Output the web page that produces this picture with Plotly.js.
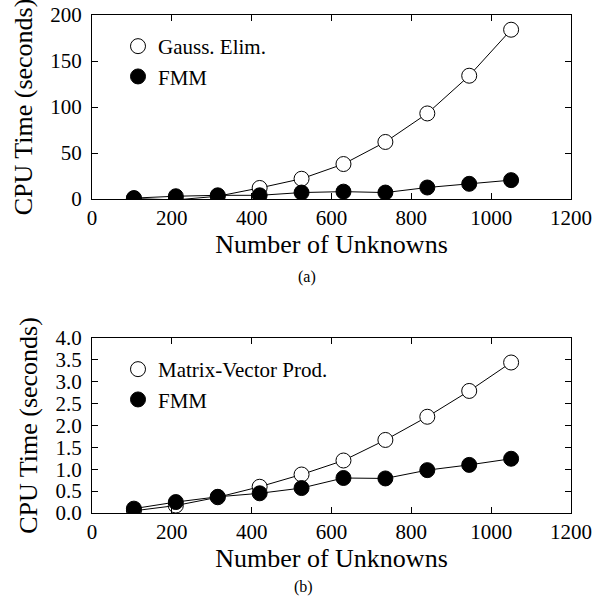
<!DOCTYPE html>
<html><head><meta charset="utf-8">
<script src="https://cdn.plot.ly/plotly-3.0.1.min.js"></script>
<style>html,body{margin:0;padding:0;background:#fff}#c{width:599px;height:598px}</style>
</head><body><div id="c"></div>
<script>
const unknowns = [105, 210, 315, 420, 525, 630, 735, 840, 945, 1050];
const gaussElim = [0.5, -1, 3, 12, 22, 38, 62, 93, 134, 184];
const fmmA = [1, 3, 4, 4, 7, 8, 7, 12.5, 16.5, 20.5];
const matVec = [0.05, 0.17, 0.36, 0.6, 0.88, 1.2, 1.67, 2.2, 2.79, 3.44];
const fmmB = [0.1, 0.25, 0.37, 0.45, 0.57, 0.8, 0.79, 0.98, 1.1, 1.24];
const xTicks = [0, 200, 400, 600, 800, 1000, 1200];

const F = 'Liberation Serif, Times New Roman, serif';
const openM = {symbol:'circle', size:15, color:'#fff', line:{color:'#000', width:1}};
const fillM = {symbol:'circle', size:15, color:'#000', line:{color:'#000', width:1}};
const ln = {color:'#000', width:1};

function series(y, name, marker, xa, ya, leg){
  return [
    {x:unknowns, y:y, name:name, mode:'lines', line:ln, xaxis:xa, yaxis:ya, showlegend:false, hoverinfo:'skip'},
    {x:unknowns, y:y, name:name, mode:'markers', marker:marker, xaxis:xa, yaxis:ya, legend:leg}
  ];
}
const data = [].concat(
  series(gaussElim, 'Gauss. Elim.', openM, 'x', 'y', 'legend'),
  series(fmmA, 'FMM', fillM, 'x', 'y', 'legend'),
  series(matVec, 'Matrix-Vector Prod.', openM, 'x2', 'y2', 'legend2'),
  series(fmmB, 'FMM', fillM, 'x2', 'y2', 'legend2')
);

const xdom = [92/599, 571/599];
function xa(anchor){
  return {domain:xdom, anchor:anchor, range:[0,1200], tickvals:xTicks, ticktext:xTicks.map(String),
    ticks:'inside', ticklen:6, tickcolor:'#000', mirror:'ticks', showline:true, linecolor:'#000', linewidth:1,
    showgrid:false, zeroline:false, tickfont:{family:F, size:21, color:'#000'},
    title:{text:'Number of Unknowns', font:{family:F, size:26, color:'#000'}, standoff:2}};
}
function ya(anchor, dom, range, dtick, fmt){
  return {domain:dom, anchor:anchor, range:range, dtick:dtick, tickformat:fmt,
    ticks:'inside', ticklen:6, tickcolor:'#000', mirror:'ticks', showline:true, linecolor:'#000', linewidth:1,
    showgrid:false, zeroline:false, tickfont:{family:F, size:21, color:'#000'}, ticklabelstandoff:5,
    title:{text:'CPU Time (seconds)', font:{family:F, size:26, color:'#000'}, standoff:10}};
}
const legendCommon = {bgcolor:'rgba(0,0,0,0)', borderwidth:0, font:{family:F, size:21, color:'#000'},
  xanchor:'left', yanchor:'top', tracegroupgap:0};

const layout = {
  width:599, height:598, margin:{l:0, r:0, t:0, b:0},
  paper_bgcolor:'#fff', plot_bgcolor:'#fff', showlegend:true,
  xaxis: xa('y'),
  yaxis: ya('x', [1-199/598, 1-15/598], [0,200], 50, 'd'),
  xaxis2: xa('y2'),
  yaxis2: ya('x2', [1-513/598, 1-338/598], [0,4], 0.5, '.1f'),
  legend: Object.assign({x:118/599, y:1-26/598}, legendCommon),
  legend2: Object.assign({x:118/599, y:1-349/598}, legendCommon),
  annotations:[
    {text:'(a)', x:307/599, y:1-277/598, xref:'paper', yref:'paper', xanchor:'center', yanchor:'middle', showarrow:false, font:{family:F, size:16, color:'#000'}},
    {text:'(b)', x:303/599, y:1-587/598, xref:'paper', yref:'paper', xanchor:'center', yanchor:'middle', showarrow:false, font:{family:F, size:16, color:'#000'}}
  ]
};
Plotly.newPlot('c', data, layout, {staticPlot:true});
</script></body></html>
